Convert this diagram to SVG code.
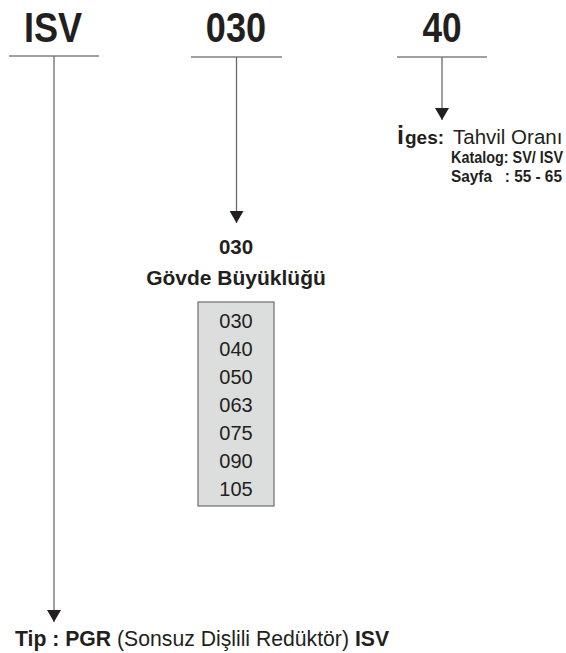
<svg xmlns="http://www.w3.org/2000/svg" width="566" height="653" viewBox="0 0 566 653">
<defs>
<style>
.t{font-family:"Liberation Sans",Arial,sans-serif;fill:#231f20}
.hd{font-size:42px;font-weight:bold;text-anchor:middle}
.b{font-weight:bold}
.hl{stroke:#808080;stroke-width:1.6;fill:none}
.vl{stroke:#6a6a6a;stroke-width:1.3;fill:none}
.num{font-size:20px;text-anchor:middle}
.cat{font-size:16px;font-weight:bold;white-space:pre}
</style>
<marker id="ah" viewBox="0 0 12 14" refX="12" refY="7" markerWidth="12" markerHeight="14" markerUnits="userSpaceOnUse" orient="auto">
<path d="M0,0 L12,7 L0,14 Z" fill="#231f20"/>
</marker>
</defs>
<rect width="566" height="653" fill="#ffffff"/>

<g id="connectors">
<line class="hl" x1="9" y1="56" x2="99" y2="56"/>
<line class="vl" x1="54" y1="56" x2="54" y2="622" marker-end="url(#ah)"/>
<line class="hl" x1="191" y1="57" x2="282" y2="57"/>
<line class="vl" x1="236.5" y1="57" x2="236.5" y2="223" marker-end="url(#ah)"/>
<line class="hl" x1="397" y1="57" x2="487" y2="57"/>
<line class="vl" x1="442" y1="57" x2="442" y2="120" marker-end="url(#ah)"/>
</g>

<g id="head-isv">
<text class="t hd" transform="translate(53,42) scale(0.86,1)" x="0" y="0">ISV</text>
</g>
<g id="head-030">
<text class="t hd" transform="translate(236,42) scale(0.86,1)" x="0" y="0">030</text>
</g>
<g id="head-40">
<text class="t hd" transform="translate(442,42) scale(0.84,1)" x="0" y="0">40</text>
</g>

<g id="ratio">
<text class="t b" x="397" y="144" font-size="25">i</text>
<text class="t b" x="405" y="144" font-size="19">ges:</text>
<text class="t" x="453" y="144" font-size="20.5">Tahvil Oranı</text>
<text class="t cat" transform="translate(451,163) scale(0.9,1)" x="0" y="0">Katalog: SV/ ISV</text>
<text class="t cat" transform="translate(451,182) scale(0.96,1)" x="0" y="0" xml:space="preserve">Sayfa   : 55 - 65</text>
</g>

<g id="size">
<text class="t b" x="236" y="254" font-size="20.5" text-anchor="middle">030</text>
<text class="t b" x="236" y="285" font-size="21" text-anchor="middle">Gövde Büyüklüğü</text>
</g>

<g id="size-list">
<rect x="198" y="302" width="76" height="204" fill="#dcdddd" stroke="#6d6e70" stroke-width="1.2"/>
<text class="t num" x="236" y="328">030</text>
<text class="t num" x="236" y="356">040</text>
<text class="t num" x="236" y="384">050</text>
<text class="t num" x="236" y="412">063</text>
<text class="t num" x="236" y="440">075</text>
<text class="t num" x="236" y="468">090</text>
<text class="t num" x="236" y="496">105</text>
</g>

<g id="type">
<text class="t" x="15" y="646" font-size="21.2"><tspan class="b">Tip : PGR</tspan> (Sonsuz Dişlili Redüktör) <tspan class="b">ISV</tspan></text>
</g>
</svg>
